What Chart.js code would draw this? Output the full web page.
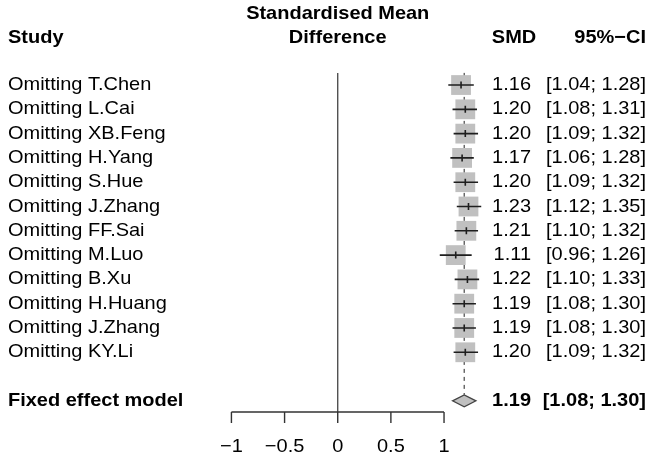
<!DOCTYPE html>
<html>
<head>
<meta charset="utf-8">
<script src="https://cdn.jsdelivr.net/npm/chart.js@4.4.1/dist/chart.umd.min.js"></script>
<style>
  html, body { margin: 0; padding: 0; background: #fff; }
  #wrap { width: 666px; height: 465px; }
</style>
</head>
<body>
<div id="wrap"><canvas id="forest" width="666" height="465"></canvas></div>
<script>
// leave-one-out sensitivity analysis
const studies = [
    'Omitting T.Chen', 'Omitting L.Cai', 'Omitting XB.Feng', 'Omitting H.Yang',
    'Omitting S.Hue', 'Omitting J.Zhang', 'Omitting FF.Sai', 'Omitting M.Luo',
    'Omitting B.Xu', 'Omitting H.Huang', 'Omitting J.Zhang', 'Omitting KY.Li'
];
const smd   = [1.16, 1.20, 1.20, 1.17, 1.20, 1.23, 1.21, 1.11, 1.22, 1.19, 1.19, 1.20];
const lower = [1.04, 1.08, 1.09, 1.06, 1.09, 1.12, 1.10, 0.96, 1.10, 1.08, 1.08, 1.09];
const upper = [1.28, 1.31, 1.32, 1.28, 1.32, 1.35, 1.32, 1.26, 1.33, 1.30, 1.30, 1.32];

const pooledLabel = 'Fixed effect model';
const pooledSmd = 1.19;
const pooledCi = [1.08, 1.30];

const xTicks = [-1, -0.5, 0, 0.5, 1];
const xTickLabels = ['\u22121', '\u22120.5', '0', '0.5', '1'];

const pooledRow = studies.length + 1;

function fmt(v) { return v.toFixed(2); }
function ciText(lo, hi) { return '[' + fmt(lo) + '; ' + fmt(hi) + ']'; }

function drawText(ctx, str, x, y, align, bold) {
    ctx.save();
    ctx.translate(x, y);
    ctx.scale(1.08, 1);
    ctx.font = (bold ? 'bold ' : '') + '18.5px "Liberation Sans", Arial, sans-serif';
    ctx.fillStyle = '#000';
    ctx.textAlign = align;
    ctx.textBaseline = 'middle';
    ctx.fillText(str, 0, 0);
    ctx.restore();
}

const forestLayer = {
    id: 'forestLayer',
    beforeDatasetsDraw(chart) {
        const ctx = chart.ctx;
        const xs = chart.scales.x, ys = chart.scales.y;
        const top = ys.getPixelForValue(-0.5);
        const axisY = ys.getPixelForValue(pooledRow + 0.46);

        // line of no effect
        ctx.save();
        ctx.strokeStyle = '#444';
        ctx.lineWidth = 1.3;
        ctx.beginPath();
        ctx.moveTo(xs.getPixelForValue(0), top);
        ctx.lineTo(xs.getPixelForValue(0), axisY);
        ctx.stroke();

        // pooled estimate reference
        ctx.strokeStyle = '#555';
        ctx.setLineDash([4, 4]);
        ctx.beginPath();
        ctx.moveTo(xs.getPixelForValue(pooledSmd), top);
        ctx.lineTo(xs.getPixelForValue(pooledSmd), ys.getPixelForValue(pooledRow) - 6);
        ctx.stroke();
        ctx.restore();
    },
    afterDatasetsDraw(chart) {
        const ctx = chart.ctx;
        const xs = chart.scales.x, ys = chart.scales.y;

        // confidence intervals
        ctx.save();
        ctx.strokeStyle = '#1e1e1e';
        ctx.lineWidth = 1.6;
        studies.forEach((s, i) => {
            const y = ys.getPixelForValue(i);
            const xm = xs.getPixelForValue(smd[i]);
            ctx.beginPath();
            ctx.moveTo(xs.getPixelForValue(lower[i]), y);
            ctx.lineTo(xs.getPixelForValue(upper[i]), y);
            ctx.moveTo(xm, y - 3.5);
            ctx.lineTo(xm, y + 3.5);
            ctx.stroke();
        });

        // pooled diamond
        const py = ys.getPixelForValue(pooledRow);
        ctx.beginPath();
        ctx.moveTo(xs.getPixelForValue(pooledCi[0]), py);
        ctx.lineTo(xs.getPixelForValue(pooledSmd), py - 6);
        ctx.lineTo(xs.getPixelForValue(pooledCi[1]), py);
        ctx.lineTo(xs.getPixelForValue(pooledSmd), py + 6);
        ctx.closePath();
        ctx.fillStyle = '#c0c0c0';
        ctx.fill();
        ctx.strokeStyle = '#444';
        ctx.lineWidth = 1.3;
        ctx.stroke();

        // x axis
        const axisY = ys.getPixelForValue(pooledRow + 0.46);
        ctx.strokeStyle = '#333';
        ctx.lineWidth = 1.4;
        ctx.beginPath();
        ctx.moveTo(xs.getPixelForValue(xTicks[0]), axisY);
        ctx.lineTo(xs.getPixelForValue(xTicks[xTicks.length - 1]), axisY);
        xTicks.forEach(t => {
            ctx.moveTo(xs.getPixelForValue(t), axisY);
            ctx.lineTo(xs.getPixelForValue(t), axisY + 11);
        });
        ctx.stroke();
        ctx.restore();

        const tickY = ys.getPixelForValue(pooledRow + 1.9);
        xTicks.forEach((t, i) => drawText(ctx, xTickLabels[i], xs.getPixelForValue(t), tickY, 'center', false));

        // column headers
        const midX = xs.getPixelForValue(0);
        drawText(ctx, 'Standardised Mean', midX, ys.getPixelForValue(-2.93), 'center', true);
        drawText(ctx, 'Difference', midX, ys.getPixelForValue(-1.95), 'center', true);
        drawText(ctx, 'Study', 8, ys.getPixelForValue(-1.95), 'left', true);
        drawText(ctx, 'SMD', 514, ys.getPixelForValue(-1.95), 'center', true);
        drawText(ctx, '95%\u2212CI', 646, ys.getPixelForValue(-1.95), 'right', true);

        // study rows
        studies.forEach((s, i) => {
            const y = ys.getPixelForValue(i);
            drawText(ctx, s, 8, y, 'left', false);
            drawText(ctx, fmt(smd[i]), 531, y, 'right', false);
            drawText(ctx, ciText(lower[i], upper[i]), 646, y, 'right', false);
        });

        drawText(ctx, pooledLabel, 8, py, 'left', true);
        drawText(ctx, fmt(pooledSmd), 531, py, 'right', true);
        drawText(ctx, ciText(pooledCi[0], pooledCi[1]), 646, py, 'right', true);
    }
};

new Chart(document.getElementById('forest').getContext('2d'), {
    type: 'scatter',
    data: {
        datasets: [{
            label: 'SMD',
            data: studies.map((s, i) => ({ x: smd[i], y: i })),
            pointStyle: 'rect',
            radius: 14,
            hoverRadius: 14,
            backgroundColor: '#c0c0c0',
            borderWidth: 0
        }]
    },
    options: {
        responsive: false,
        animation: false,
        layout: { padding: 0, autoPadding: false },
        plugins: { legend: { display: false }, tooltip: { enabled: false } },
        scales: {
            x: { type: 'linear', display: false, min: -3.177, max: 3.088 },
            y: { type: 'linear', display: false, reverse: true, min: -3.5, max: 15.64 }
        }
    },
    plugins: [forestLayer]
});
</script>
</body>
</html>
